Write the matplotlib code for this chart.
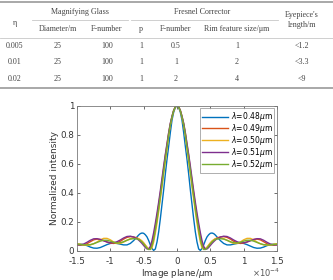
import numpy as np
import matplotlib
matplotlib.use("Agg")
import matplotlib.pyplot as plt
from matplotlib.lines import Line2D

W, H = 333, 280

# ── table contents ────────────────────────────────────────────────────────────
group_labels = ["Magnifying Glass", "Fresnel Corrector"]
sub_headers = ["Diameter/m", "F-number", "p", "F-number", "Rim feature size/\u03bcm"]
eta_values = ["0.005", "0.01", "0.02"]
diameters = ["25", "25", "25"]
glass_fnum = ["100", "100", "100"]
p_values = ["1", "1", "1"]
fresnel_fnum = ["0.5", "1", "2"]
rim_sizes = ["1", "2", "4"]
eyepiece = ["<1.2", "<3.3", "<9"]

# ── curve data (x in units of 1e-4 um) ─────────────────────────────────────────
x_vals = np.round(np.concatenate([np.arange(-1.5, -0.62, 0.05),
                                  np.arange(-0.6, 0.6001, 0.025),
                                  np.arange(0.65, 1.5001, 0.05)]), 3)
wavelengths = ["0.48", "0.49", "0.50", "0.51", "0.52"]

i_048 = [0.044, 0.045, 0.042, 0.035, 0.025, 0.018, 0.017, 0.022, 0.032, 0.042, 0.05, 0.052, 0.05, 0.045, 0.04, 0.04, 0.05, 0.07,
         0.095, 0.108, 0.118, 0.122, 0.12, 0.11, 0.095, 0.07, 0.04, 0.015, 0.002, 0.012, 0.06, 0.13, 0.22, 0.32, 0.42, 0.53, 0.63, 0.72, 0.815, 0.90, 0.955, 0.988,
         1.0,
         0.988, 0.955, 0.90, 0.815, 0.72, 0.63, 0.53, 0.42, 0.32, 0.22, 0.13, 0.06, 0.012, 0.002, 0.015, 0.04, 0.07, 0.095, 0.11, 0.12, 0.122, 0.118, 0.108, 0.095,
         0.07, 0.05, 0.04, 0.04, 0.045, 0.05, 0.052, 0.05, 0.042, 0.032, 0.022, 0.017, 0.018, 0.025, 0.035, 0.042, 0.045, 0.044]
i_049 = [0.04, 0.038, 0.04, 0.048, 0.062, 0.075, 0.08, 0.078, 0.07, 0.06, 0.052, 0.05, 0.055, 0.065, 0.08, 0.092, 0.097, 0.095,
         0.088, 0.082, 0.073, 0.063, 0.05, 0.035, 0.02, 0.012, 0.018, 0.05, 0.10, 0.165, 0.235, 0.315, 0.395, 0.48, 0.565, 0.655, 0.73, 0.81, 0.875, 0.925, 0.967, 0.992,
         1.0,
         0.992, 0.967, 0.925, 0.875, 0.81, 0.73, 0.655, 0.565, 0.48, 0.395, 0.315, 0.235, 0.165, 0.10, 0.05, 0.018, 0.012, 0.02, 0.035, 0.05, 0.063, 0.073, 0.082, 0.088,
         0.095, 0.097, 0.092, 0.08, 0.065, 0.055, 0.05, 0.052, 0.06, 0.07, 0.078, 0.08, 0.075, 0.062, 0.048, 0.04, 0.038, 0.04]
i_050 = [0.048, 0.045, 0.04, 0.038, 0.04, 0.048, 0.06, 0.075, 0.085, 0.085, 0.075, 0.06, 0.05, 0.05, 0.06, 0.072, 0.083, 0.087,
         0.085, 0.082, 0.076, 0.067, 0.055, 0.04, 0.025, 0.012, 0.008, 0.02, 0.06, 0.12, 0.19, 0.27, 0.355, 0.44, 0.53, 0.615, 0.70, 0.795, 0.865, 0.92, 0.964, 0.991,
         1.0,
         0.991, 0.964, 0.92, 0.865, 0.795, 0.70, 0.615, 0.53, 0.44, 0.355, 0.27, 0.19, 0.12, 0.06, 0.02, 0.008, 0.012, 0.025, 0.04, 0.055, 0.067, 0.076, 0.082, 0.085,
         0.087, 0.083, 0.072, 0.06, 0.05, 0.05, 0.06, 0.075, 0.085, 0.085, 0.075, 0.06, 0.048, 0.04, 0.038, 0.04, 0.045, 0.048]
i_051 = [0.04, 0.04, 0.046, 0.058, 0.072, 0.082, 0.083, 0.077, 0.068, 0.06, 0.055, 0.055, 0.062, 0.074, 0.088, 0.098, 0.10, 0.094,
         0.082, 0.073, 0.062, 0.05, 0.036, 0.022, 0.012, 0.012, 0.03, 0.07, 0.125, 0.19, 0.26, 0.335, 0.415, 0.50, 0.585, 0.665, 0.74, 0.815, 0.88, 0.928, 0.968, 0.992,
         1.0,
         0.992, 0.968, 0.928, 0.88, 0.815, 0.74, 0.665, 0.585, 0.50, 0.415, 0.335, 0.26, 0.19, 0.125, 0.07, 0.03, 0.012, 0.012, 0.022, 0.036, 0.05, 0.062, 0.073, 0.082,
         0.094, 0.10, 0.098, 0.088, 0.074, 0.062, 0.055, 0.055, 0.06, 0.068, 0.077, 0.083, 0.082, 0.072, 0.058, 0.046, 0.04, 0.04]
i_052 = [0.045, 0.042, 0.04, 0.04, 0.042, 0.048, 0.057, 0.066, 0.072, 0.072, 0.066, 0.058, 0.053, 0.055, 0.062, 0.072, 0.08, 0.083,
         0.081, 0.077, 0.07, 0.06, 0.047, 0.032, 0.018, 0.008, 0.01, 0.035, 0.08, 0.145, 0.215, 0.29, 0.375, 0.46, 0.55, 0.635, 0.715, 0.80, 0.87, 0.922, 0.965, 0.991,
         1.0,
         0.991, 0.965, 0.922, 0.87, 0.80, 0.715, 0.635, 0.55, 0.46, 0.375, 0.29, 0.215, 0.145, 0.08, 0.035, 0.01, 0.008, 0.018, 0.032, 0.047, 0.06, 0.07, 0.077, 0.081,
         0.083, 0.08, 0.072, 0.062, 0.055, 0.053, 0.058, 0.066, 0.072, 0.072, 0.066, 0.057, 0.048, 0.042, 0.04, 0.04, 0.042, 0.045]
curves = [i_048, i_049, i_050, i_051, i_052]
colors = ["#0072BD", "#D95319", "#EDB120", "#7E2F8E", "#77AC30"]


def fx(px):
    return px / W


def fy(py):
    return 1 - py / H


def hline(fig, x0, x1, y, lw, color):
    fig.add_artist(Line2D([fx(x0), fx(x1)], [fy(y), fy(y)], lw=lw, color=color))


def cell(fig, x, y, s):
    fig.text(fx(x), fy(y), s, ha="center", va="center", fontsize=5.8,
             family=["Liberation Serif", "DejaVu Serif"], color="#444444")


fig = plt.figure(figsize=(W / 100, H / 100), dpi=100)

# ── table ─────────────────────────────────────────────────────────────────────
hline(fig, 0, 333, 2, 1.4, "#a8a8a8")
hline(fig, 32, 128, 20, 0.6, "#c8c8c8")
hline(fig, 131, 278, 20, 0.6, "#c8c8c8")
hline(fig, 0, 333, 38, 0.6, "#c8c8c8")
hline(fig, 0, 333, 88, 1.4, "#a8a8a8")

cell(fig, 15, 23, "\u03b7")
cell(fig, 80, 12, group_labels[0])
cell(fig, 202, 12, group_labels[1])
cell(fig, 302, 15, "Eyepiece's")
cell(fig, 302, 25, "length/m")
col_x = [58, 107, 141, 176, 237]
for cx, s in zip(col_x, sub_headers):
    cell(fig, cx, 29, s)

row_y = [46, 62, 79]
columns = [eta_values, diameters, glass_fnum, p_values, fresnel_fnum, rim_sizes, eyepiece]
xs = [15] + col_x + [302]
for cx, col in zip(xs, columns):
    for ry, s in zip(row_y, col):
        cell(fig, cx, ry, s)

# ── intensity plot ────────────────────────────────────────────────────────────
ax = fig.add_axes([fx(77), fy(250.7), 200 / W, 145 / H])
for vals, wl, c in zip(curves, wavelengths, colors):
    ax.plot(x_vals, vals, color=c, lw=1.0, label=r"$\lambda$=" + wl + r"$\mu$m")

ax.set_xlim(-1.5, 1.5)
ax.set_ylim(0, 1)
ax.set_xticks([-1.5, -1, -0.5, 0, 0.5, 1, 1.5])
ax.set_xticklabels(["-1.5", "-1", "-0.5", "0", "0.5", "1", "1.5"])
ax.set_yticks([0, 0.2, 0.4, 0.6, 0.8, 1])
ax.set_yticklabels(["0", "0.2", "0.4", "0.6", "0.8", "1"])
ax.tick_params(direction="in", length=2, width=0.5, top=True, right=True,
               labelsize=6.3, colors="#333333")
ax.tick_params(axis="x", pad=4.5)
ax.tick_params(axis="y", pad=2)
for sp in ax.spines.values():
    sp.set_color("#7a7a7a")
    sp.set_linewidth(0.6)

ax.set_xlabel(r"Image plane/$\mu$m", fontsize=6.3, color="#333333", labelpad=0.5)
ax.set_ylabel("Normalized intensity", fontsize=6.5, color="#333333", labelpad=1)
fig.text(fx(266), fy(273), r"$\times10^{-4}$", fontsize=6, color="#555555",
         ha="center", va="center")

leg = ax.legend(loc="upper right", fontsize=5.5, frameon=True, fancybox=False,
                handlelength=3.4, handletextpad=0.3, borderpad=0.25,
                labelspacing=-0.15, borderaxespad=0.35)
leg.get_frame().set_edgecolor("#8a8a8a")
leg.get_frame().set_linewidth(0.6)

fig.savefig("out.png", dpi=100)
